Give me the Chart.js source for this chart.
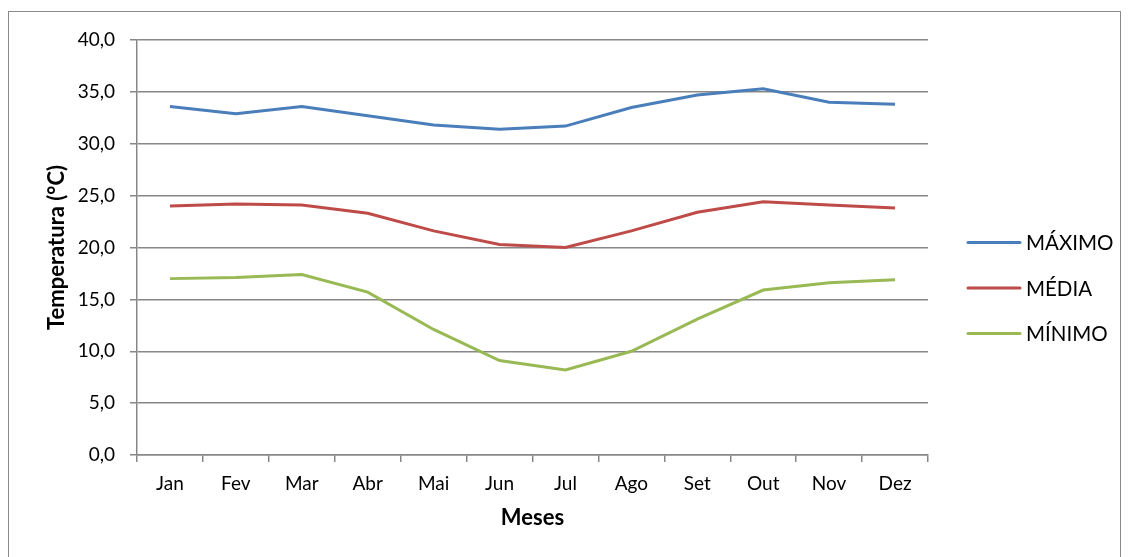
<!DOCTYPE html>
<html>
<head>
<meta charset="utf-8">
<script src="https://cdn.jsdelivr.net/npm/chart.js@4"></script>
<style>
  html, body { margin: 0; padding: 0; background: #fff; }
  #wrap { width: 1130px; height: 557px; position: relative; }
</style>
</head>
<body>
<div id="wrap"><canvas id="c" width="1130" height="557"></canvas></div>
<script>
const months = ['Jan', 'Fev', 'Mar', 'Abr', 'Mai', 'Jun', 'Jul', 'Ago', 'Set', 'Out', 'Nov', 'Dez'];
const maximo = [33.6, 32.9, 33.6, 32.7, 31.8, 31.4, 31.7, 33.5, 34.7, 35.3, 34.0, 33.8];
const media  = [24.0, 24.2, 24.1, 23.3, 21.6, 20.3, 20.0, 21.6, 23.4, 24.4, 24.1, 23.8];
const minimo = [17.0, 17.1, 17.4, 15.7, 12.1, 9.1, 8.2, 10.0, 13.1, 15.9, 16.6, 16.9];
const seriesNames = ['MÁXIMO', 'MÉDIA', 'MÍNIMO'];
const seriesColors = ['#4a7ebb', '#be4b48', '#98b954'];

const FONT = 'Lato, "Open Sans", sans-serif';
const GRID = '#878787';

// outer frame of the chart box
const framePlugin = {
  id: 'frame',
  beforeDraw(chart) {
    const ctx = chart.ctx;
    ctx.save();
    ctx.fillStyle = '#fff';
    ctx.fillRect(0, 0, chart.width, chart.height);
    ctx.strokeStyle = '#8a8a8a';
    ctx.lineWidth = 1;
    ctx.strokeRect(8.5, 11.5, 1112, 600);
    ctx.restore();
  }
};

// legend on the right: line sample followed by series name
const sideLegend = {
  id: 'sideLegend',
  afterDraw(chart) {
    const ctx = chart.ctx;
    ctx.save();
    ctx.font = '20.5px ' + FONT;
    ctx.textBaseline = 'middle';
    ctx.textAlign = 'left';
    chart.data.datasets.forEach((ds, i) => {
      const y = 242.5 + i * 45.5;
      ctx.strokeStyle = ds.borderColor;
      ctx.lineWidth = 3;
      ctx.lineCap = 'round';
      ctx.beginPath();
      ctx.moveTo(968, y);
      ctx.lineTo(1020, y);
      ctx.stroke();
      ctx.fillStyle = '#000';
      ctx.fillText(ds.label, 1026, y + 1);
    });
    ctx.restore();
  }
};

const datasets = [maximo, media, minimo].map((vals, i) => ({
  label: seriesNames[i],
  data: vals,
  borderColor: seriesColors[i],
  backgroundColor: seriesColors[i],
  borderWidth: 3,
  pointRadius: 0,
  pointHoverRadius: 0,
  tension: 0,
  fill: false
}));

new Chart(document.getElementById('c'), {
  type: 'line',
  data: { labels: months, datasets },
  plugins: [framePlugin, sideLegend],
  options: {
    responsive: false,
    animation: false,
    devicePixelRatio: 1,
    layout: { padding: { left: 44, right: 202, top: 40, bottom: 26 } },
    plugins: {
      legend: { display: false },
      tooltip: { enabled: false }
    },
    scales: {
      x: {
        type: 'category',
        offset: true,
        grid: {
          offset: true,
          drawOnChartArea: false,
          drawTicks: true,
          tickLength: 7,
          color: GRID,
          lineWidth: 1.5
        },
        border: { display: true, color: GRID, width: 1.5 },
        ticks: {
          color: '#000',
          font: { family: FONT, size: 19 },
          padding: 10,
          maxRotation: 0,
          autoSkip: false
        },
        title: {
          display: true,
          text: 'Meses',
          color: '#000',
          font: { family: FONT, size: 22, weight: 'bold' },
          padding: { top: 0, bottom: 0 }
        },
        afterFit(scale) { scale.height = 557 - 455 - 26; }
      },
      y: {
        min: 0,
        max: 40,
        grid: {
          drawTicks: true,
          tickLength: 7,
          color: GRID,
          lineWidth: 1.5
        },
        border: { display: true, color: GRID, width: 1.5 },
        ticks: {
          stepSize: 5,
          color: '#000',
          font: { family: FONT, size: 19 },
          padding: 15,
          callback: v => v.toFixed(1).replace('.', ',')
        },
        title: {
          display: true,
          text: 'Temperatura (°C)',
          color: '#000',
          font: { family: FONT, size: 22, weight: 'bold' },
          padding: { top: 0, bottom: 0 }
        },
        afterFit(scale) { scale.width = 137 - 44; }
      }
    }
  }
});
</script>
</body>
</html>
